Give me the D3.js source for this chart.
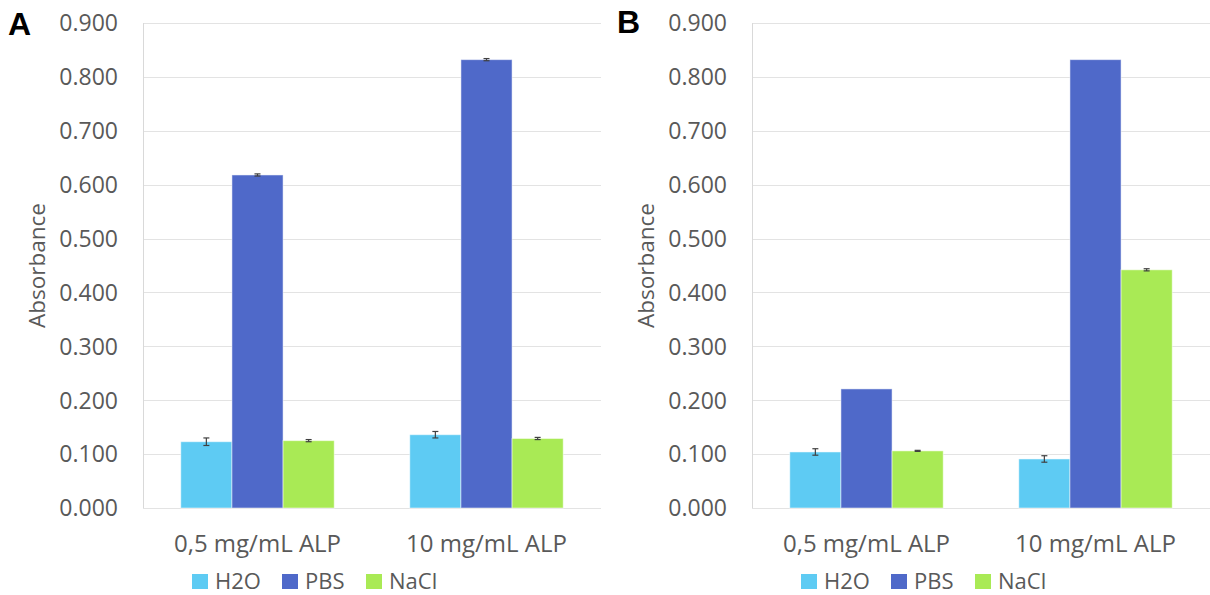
<!DOCTYPE html>
<html>
<head>
<meta charset="utf-8">
<script src="https://cdn.jsdelivr.net/npm/d3@7"></script>
<style>
  body { margin: 0; background: #fff; }
  text { font-family: "Open Sans", sans-serif; fill: #595959; }
</style>
</head>
<body>
<svg id="chart"></svg>
<script>
var categories = ["0,5 mg/mL ALP", "10 mg/mL ALP"];
var series = ["H2O", "PBS", "NaCl"];
var colors = ["#5ECBF3", "#4F69C9", "#A9EA55"];
var yTicks = [0, 0.1, 0.2, 0.3, 0.4, 0.5, 0.6, 0.7, 0.8, 0.9];

// panel A: values[category][series]
var valuesA = [[0.123, 0.618, 0.125], [0.136, 0.832, 0.129]];
var errorsA = [[0.007, 0.002, 0.002], [0.006, 0.002, 0.002]];
// panel B
var valuesB = [[0.104, 0.221, 0.106], [0.091, 0.832, 0.442]];
var errorsB = [[0.006, 0, 0.001], [0.006, 0, 0.002]];

var width = 1210, height = 595;
var svg = d3.select("#chart").attr("width", width).attr("height", height);

function drawPanel(left, letter, letterY, values, errors) {
    var plotLeft = left, plotRight = left + 458;
    var top = 23, bottom = 508;

    var g = svg.append("g");

    var y = d3.scaleLinear().domain([0, 0.9]).range([bottom, top]);
    var x0 = d3.scaleBand().domain(categories).range([plotLeft, plotRight])
               .paddingInner(0.33).paddingOuter(0.165);
    var x1 = d3.scaleBand().domain(series).range([0, x0.bandwidth()]);

    // gridlines
    g.selectAll("line.grid")
     .data(yTicks)
     .enter()
     .append("line")
     .attr("class", "grid")
     .attr("x1", plotLeft).attr("x2", plotRight)
     .attr("y1", function(d) { return Math.round(y(d)) + 0.5; })
     .attr("y2", function(d) { return Math.round(y(d)) + 0.5; })
     .attr("stroke", "#e3e3e3")
     .attr("stroke-width", 1);

    // y axis line
    g.append("line")
     .attr("x1", plotLeft + 0.5).attr("x2", plotLeft + 0.5)
     .attr("y1", top).attr("y2", bottom)
     .attr("stroke", "#d9d9d9");

    // tick labels
    g.selectAll("text.tick")
     .data(yTicks)
     .enter()
     .append("text")
     .attr("class", "tick")
     .attr("x", plotLeft - 25)
     .attr("y", function(d) { return y(d); })
     .attr("dy", "0.36em")
     .attr("text-anchor", "end")
     .style("font-size", "23px")
     .text(function(d) { return d3.format(".3f")(d); });

    // y label
    g.append("text")
     .attr("transform", "translate(" + (plotLeft - 98) + "," + ((top + bottom) / 2) + ") rotate(-90)")
     .attr("text-anchor", "middle")
     .style("font-size", "22.5px")
     .text("Absorbance");

    // bars
    var groups = g.selectAll("g.cat")
                  .data(categories)
                  .enter()
                  .append("g")
                  .attr("transform", function(d) { return "translate(" + x0(d) + ",0)"; });

    groups.selectAll("rect")
          .data(function(d, i) { return series.map(function(s, j) { return { s: s, v: values[i][j], e: errors[i][j], j: j }; }); })
          .enter()
          .append("rect")
          .attr("x", function(d) { return x1(d.s); })
          .attr("y", function(d) { return y(d.v); })
          .attr("width", x1.bandwidth())
          .attr("height", function(d) { return y(0) - y(d.v); })
          .attr("fill", function(d) { return colors[d.j]; })
          .attr("stroke", "rgba(255,255,255,0.5)")
          .attr("stroke-width", 1);

    // error bars
    var eb = groups.selectAll("g.err")
                   .data(function(d, i) { return series.map(function(s, j) { return { s: s, v: values[i][j], e: errors[i][j] }; }); })
                   .enter()
                   .filter(function(d) { return d.e > 0; })
                   .append("g")
                   .attr("stroke", "#404040")
                   .attr("stroke-width", 1.2);
    eb.append("line")
      .attr("x1", function(d) { return x1(d.s) + x1.bandwidth() / 2; })
      .attr("x2", function(d) { return x1(d.s) + x1.bandwidth() / 2; })
      .attr("y1", function(d) { return y(d.v + d.e); })
      .attr("y2", function(d) { return y(d.v - d.e); });
    [1, -1].forEach(function(sign) {
        eb.append("line")
          .attr("x1", function(d) { return x1(d.s) + x1.bandwidth() / 2 - 3; })
          .attr("x2", function(d) { return x1(d.s) + x1.bandwidth() / 2 + 3; })
          .attr("y1", function(d) { return y(d.v + sign * d.e); })
          .attr("y2", function(d) { return y(d.v + sign * d.e); });
    });

    // category labels
    g.selectAll("text.cat")
     .data(categories)
     .enter()
     .append("text")
     .attr("class", "cat")
     .attr("x", function(d) { return x0(d) + x0.bandwidth() / 2; })
     .attr("y", 552)
     .attr("text-anchor", "middle")
     .style("font-size", "24px")
     .text(function(d) { return d; });

    // legend
    var legendX = [plotLeft + 49, plotLeft + 139, plotLeft + 223];
    var leg = g.selectAll("g.legend")
               .data(series)
               .enter()
               .append("g")
               .attr("transform", function(d, i) { return "translate(" + legendX[i] + ",574)"; });
    leg.append("rect")
       .attr("width", 16).attr("height", 15)
       .attr("fill", function(d, i) { return colors[i]; });
    leg.append("text")
       .attr("x", 23).attr("y", 15)
       .style("font-size", "22px")
       .text(function(d) { return d; });

    // panel letter
    svg.append("text")
       .attr("x", left - 135)
       .attr("y", letterY)
       .style("font-family", "'Liberation Sans', Arial, sans-serif")
       .style("font-size", "32px")
       .style("font-weight", "bold")
       .style("fill", "#000")
       .text(letter);
}

drawPanel(143, "A", 35, valuesA, errorsA);
drawPanel(752, "B", 33, valuesB, errorsB);
</script>
</body>
</html>
